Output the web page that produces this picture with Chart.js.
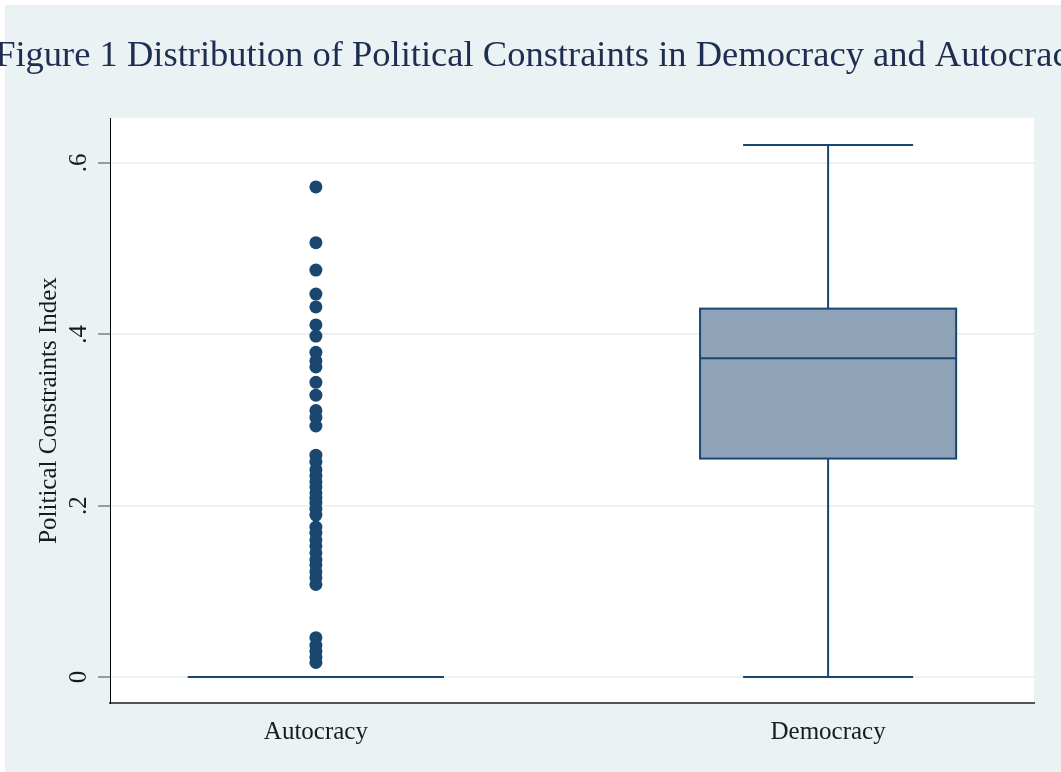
<!DOCTYPE html>
<html>
<head>
<meta charset="utf-8">
<title>Political Constraints</title>
<script src="https://cdn.jsdelivr.net/npm/chart.js@4/dist/chart.umd.min.js"></script>
<style>
  body { margin: 0; background: #ffffff; }
  #chart { position: absolute; left: 0; top: 0; }
</style>
</head>
<body>
<canvas id="chart" width="1061" height="772"></canvas>
<script>
// values
let categories = ['Autocracy', 'Democracy'];
let lowerWhisker = [0, 0];
let q1 = [0, 0.255];
let median = [0, 0.372];
let q3 = [0, 0.43];
let upperWhisker = [0, 0.621];
let autocracyOutliers = [
    0.572, 0.507, 0.475, 0.447, 0.432, 0.411, 0.398, 0.379, 0.369, 0.362,
    0.344, 0.329, 0.311, 0.303, 0.293, 0.259, 0.251, 0.242, 0.235, 0.228,
    0.222, 0.215, 0.209, 0.203, 0.196, 0.189, 0.175, 0.168, 0.160, 0.153,
    0.145, 0.137, 0.131, 0.123, 0.116, 0.108, 0.046, 0.037, 0.030, 0.023, 0.017
];
let yTickValues = [0, 0.2, 0.4, 0.6];
let yTickLabels = ['0', '.2', '.4', '.6'];
let titleText = 'Figure 1 Distribution of Political Constraints in Democracy and Autocracy';

const navy = '#1a476f';
const boxFill = '#8ea3b7';
const serif = '"Liberation Serif", "DejaVu Serif", serif';

// white margin, graph background, plot region and title
const backdropPlugin = {
    id: 'backdrop',
    beforeDraw(chart) {
        let ctx = chart.ctx;
        let a = chart.chartArea;
        ctx.save();
        ctx.fillStyle = '#ffffff';
        ctx.fillRect(0, 0, chart.width, chart.height);
        ctx.fillStyle = '#eaf2f3';
        ctx.fillRect(5, 5, chart.width - 5, chart.height - 5);
        ctx.fillStyle = '#ffffff';
        ctx.fillRect(a.left, a.top, a.right - a.left, a.bottom - a.top);
        ctx.font = '36.5px ' + serif;
        ctx.fillStyle = '#1e2d52';
        ctx.textAlign = 'center';
        ctx.textBaseline = 'middle';
        ctx.fillText(titleText, 541, 56);
        ctx.restore();
    }
};

// boxes and whiskers, placed with the chart scales
const boxPlugin = {
    id: 'boxes',
    beforeDatasetsDraw(chart) {
        let ctx = chart.ctx;
        let xs = chart.scales.x;
        let ys = chart.scales.y;
        ctx.save();
        ctx.strokeStyle = navy;
        ctx.lineWidth = 2;
        for (let i = 0; i < categories.length; i++) {
            let cx = xs.getPixelForValue(i);
            let left = xs.getPixelForValue(i - 0.25);
            let right = xs.getPixelForValue(i + 0.25);
            let capL = xs.getPixelForValue(i - 0.166);
            let capR = xs.getPixelForValue(i + 0.166);
            let yLo = ys.getPixelForValue(lowerWhisker[i]);
            let yQ1 = ys.getPixelForValue(q1[i]);
            let yMed = ys.getPixelForValue(median[i]);
            let yQ3 = ys.getPixelForValue(q3[i]);
            let yHi = ys.getPixelForValue(upperWhisker[i]);

            ctx.beginPath();
            ctx.moveTo(cx, yQ3); ctx.lineTo(cx, yHi);
            ctx.moveTo(cx, yQ1); ctx.lineTo(cx, yLo);
            ctx.moveTo(capL, yHi); ctx.lineTo(capR, yHi);
            ctx.moveTo(capL, yLo); ctx.lineTo(capR, yLo);
            ctx.stroke();

            ctx.fillStyle = boxFill;
            ctx.fillRect(left, yQ3, right - left, yQ1 - yQ3);
            ctx.strokeRect(left, yQ3, right - left, yQ1 - yQ3);

            ctx.beginPath();
            ctx.moveTo(left, yMed); ctx.lineTo(right, yMed);
            ctx.stroke();
        }
        ctx.restore();
    }
};

let chart = new Chart(document.getElementById('chart'), {
    type: 'scatter',
    data: {
        datasets: [{
            label: 'Autocracy outliers',
            data: autocracyOutliers.map(v => ({ x: 0, y: v })),
            backgroundColor: navy,
            borderWidth: 0,
            pointRadius: 6.5,
            pointHoverRadius: 6.5
        }]
    },
    options: {
        responsive: false,
        devicePixelRatio: 1,
        animation: false,
        layout: { padding: { top: 118, right: 27, left: 0, bottom: 0 } },
        plugins: {
            legend: { display: false },
            tooltip: { enabled: false },
            title: { display: false }
        },
        scales: {
            x: {
                type: 'linear',
                min: -0.402,
                max: 1.402,
                afterBuildTicks: s => { s.ticks = categories.map((c, i) => ({ value: i })); },
                afterFit: s => { s.height = 69; },
                ticks: {
                    callback: v => categories[v],
                    font: { family: serif, size: 25 },
                    color: '#1a1a1a',
                    padding: 14,
                    maxRotation: 0,
                    autoSkip: false
                },
                grid: { drawOnChartArea: false, drawTicks: false },
                border: { color: '#555555', width: 2 }
            },
            y: {
                type: 'linear',
                min: -0.0303,
                max: 0.6525,
                afterBuildTicks: s => { s.ticks = yTickValues.map(v => ({ value: v })); },
                afterFit: s => { s.width = 110; },
                ticks: {
                    callback: (v, i) => yTickLabels[i],
                    font: { family: serif, size: 25 },
                    color: '#1a1a1a',
                    minRotation: 90,
                    maxRotation: 90,
                    crossAlign: 'center',
                    padding: 9
                },
                grid: {
                    color: '#eaf2f3',
                    lineWidth: 2,
                    tickLength: 12,
                    tickColor: '#444444',
                    tickWidth: 1
                },
                border: { color: '#000000', width: 1 },
                title: {
                    display: true,
                    text: 'Political Constraints Index',
                    font: { family: serif, size: 25 },
                    color: '#1a1a1a',
                    padding: { top: 34, bottom: 0 }
                }
            }
        }
    },
    plugins: [backdropPlugin, boxPlugin]
});
</script>
</body>
</html>
